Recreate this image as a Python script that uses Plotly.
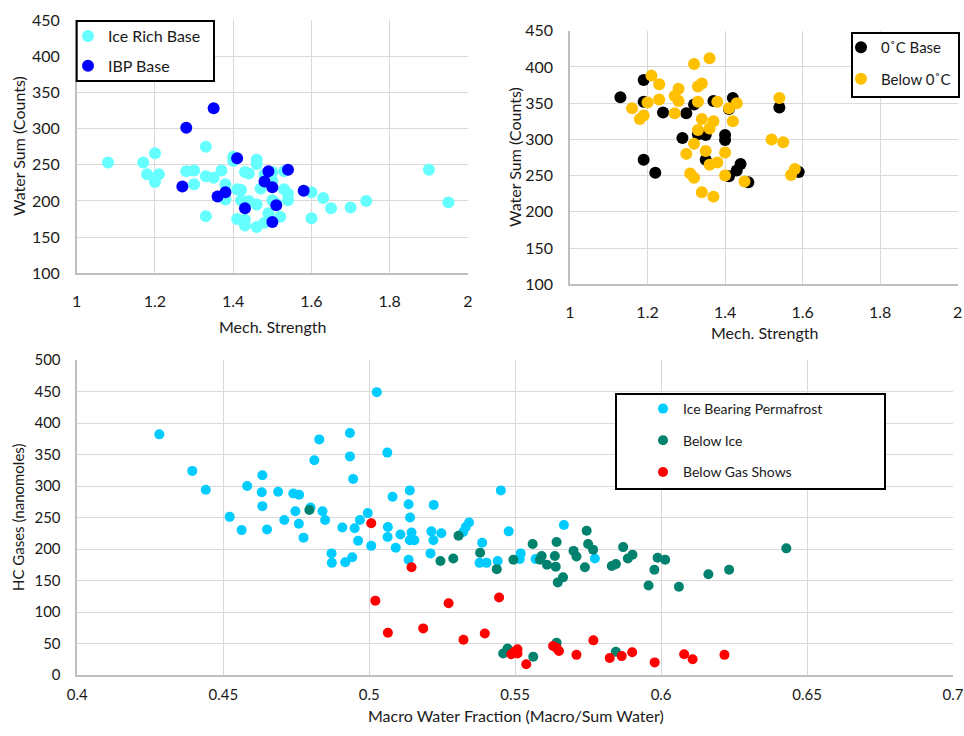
import plotly.graph_objects as go

# ---- Mechanical strength vs water sum: ice-rich vs IBP base ----
ice_rich_x = [1.08, 1.17, 1.20, 1.18, 1.21, 1.20, 1.33, 1.28, 1.30, 1.30, 1.33, 1.35, 1.37,
              1.38, 1.38, 1.40, 1.40, 1.43, 1.44, 1.41, 1.42, 1.42, 1.44, 1.46, 1.33, 1.41,
              1.43, 1.43, 1.46, 1.46, 1.48, 1.50, 1.50, 1.47, 1.53, 1.53, 1.54, 1.54, 1.50,
              1.51, 1.49, 1.52, 1.48, 1.46, 1.60, 1.60, 1.63, 1.65, 1.70, 1.74, 1.90, 1.95]
ice_rich_y = [253, 253, 266, 237, 237, 226, 275, 241, 242, 223, 234, 232, 242,
              223, 202, 261, 255, 240, 238, 216, 215, 201, 200, 195, 179, 175,
              174, 166, 257, 251, 237, 240, 228, 217, 241, 216, 210, 201, 201,
              196, 183, 178, 170, 164, 212, 176, 204, 190, 191, 200, 243, 198]

ibp_x = [1.35, 1.28, 1.41, 1.27, 1.49, 1.54, 1.48, 1.50, 1.38, 1.36, 1.58, 1.43, 1.51, 1.50]
ibp_y = [328, 301, 259, 220, 241, 243, 227, 219, 212, 206, 214, 190, 194, 171]

# ---- Mechanical strength vs water sum: 0°C base vs below 0°C ----
zero_c_x = [1.13, 1.19, 1.19, 1.24, 1.19, 1.22, 1.29, 1.30, 1.32, 1.33, 1.35, 1.35, 1.37,
            1.40, 1.40, 1.41, 1.42, 1.41, 1.43, 1.44, 1.46, 1.54, 1.59]
zero_c_y = [358, 382, 352, 337, 272, 254, 302, 336, 348, 307, 306, 272, 353,
            306, 299, 342, 357, 249, 257, 266, 241, 344, 255]

below_zero_x = [1.16, 1.18, 1.19, 1.20, 1.21, 1.23, 1.23, 1.27, 1.27, 1.28, 1.28, 1.32, 1.33,
                1.34, 1.33, 1.34, 1.33, 1.36, 1.37, 1.36, 1.38, 1.32, 1.30, 1.35, 1.36, 1.38,
                1.31, 1.32, 1.34, 1.37, 1.40, 1.40, 1.41, 1.43, 1.42, 1.45, 1.52, 1.54, 1.55,
                1.57, 1.58]
below_zero_y = [343, 328, 333, 351, 388, 376, 355, 336, 360, 370, 353, 404, 373,
                377, 352, 328, 313, 412, 325, 315, 352, 294, 280, 284, 265, 268,
                253, 247, 227, 221, 282, 250, 343, 350, 325, 242, 300, 357, 296,
                251, 259]

# ---- Macro water fraction vs HC gases ----
ibpf_x = [0.4281, 0.4394, 0.4440, 0.4522, 0.4563, 0.4582, 0.4634, 0.4632, 0.4634, 0.4650,
          0.4688, 0.4709, 0.4740, 0.4760, 0.4747, 0.4759, 0.4775, 0.4799, 0.4812, 0.4829,
          0.4840, 0.4849, 0.4871, 0.4872, 0.4908, 0.4918, 0.4942, 0.4934, 0.4934, 0.4945,
          0.4950, 0.4962, 0.4968, 0.4995, 0.5026, 0.5062, 0.5007, 0.5064, 0.5063, 0.5080,
          0.5091, 0.5107, 0.5135, 0.5139, 0.5135, 0.5140, 0.5145, 0.5139, 0.5155, 0.5210,
          0.5213, 0.5221, 0.5220, 0.5247, 0.5331, 0.5342, 0.5322, 0.5387, 0.5378, 0.5402,
          0.5440, 0.5451, 0.5478, 0.5519, 0.5516, 0.5570, 0.5667, 0.5773]
ibpf_y = [382, 324, 294, 251, 230, 300, 317, 290, 268, 231,
          291, 246, 288, 286, 260, 240, 218, 266, 341, 374,
          260, 246, 193, 178, 234, 179, 187, 384, 347, 311,
          233, 213, 246, 257, 449, 353, 205, 235, 219, 283,
          202, 223, 183, 293, 271, 250, 226, 214, 214, 193,
          228, 270, 214, 225, 235, 242, 227, 210, 178, 178,
          181, 293, 228, 193, 184, 184, 238, 185]

below_ice_x = [0.4795, 0.5244, 0.5288, 0.5306, 0.5380, 0.5437, 0.5494, 0.5560, 0.5585, 0.5591,
               0.5609, 0.5636, 0.5642, 0.5639, 0.5646, 0.5664, 0.5700, 0.5710, 0.5739, 0.5745,
               0.5750, 0.5767, 0.5831, 0.5845, 0.5870, 0.5886, 0.5902, 0.5957, 0.5977, 0.5988,
               0.6014, 0.6061, 0.6162, 0.6233, 0.6429, 0.5459, 0.5474, 0.5562, 0.5642, 0.5845]
below_ice_y = [262, 181, 185, 221, 194, 168, 183, 208, 183, 189,
               175, 189, 211, 172, 147, 155, 197, 188, 171, 229,
               208, 199, 173, 176, 203, 185, 191, 142, 167, 186,
               183, 140, 160, 167, 201, 34, 42, 29, 51, 37]

gas_x = [0.5007, 0.5145, 0.5021, 0.5064, 0.5185, 0.5272, 0.5323, 0.5396, 0.5445, 0.5487,
         0.5497, 0.5508, 0.5508, 0.5538, 0.5630, 0.5642, 0.5650, 0.5710, 0.5768, 0.5824,
         0.5865, 0.5901, 0.5978, 0.6079, 0.6108, 0.6217]
gas_y = [241, 171, 118, 67, 74, 114, 56, 66, 123, 33,
         37, 41, 34, 17, 46, 43, 38, 32, 55, 27,
         30, 36, 20, 33, 25, 32]

strength_ticks = [1, 1.2, 1.4, 1.6, 1.8, 2]
water_ticks = [100, 150, 200, 250, 300, 350, 400, 450]
fraction_ticks = [0.4, 0.45, 0.5, 0.55, 0.6, 0.65, 0.7]
hc_ticks = [0, 50, 100, 150, 200, 250, 300, 350, 400, 450, 500]

FONT = "Lato"
TXT = "#1A1A1A"
GRID = "#D9D9D9"
AXIS = "#BFBFBF"

fig = go.Figure()


def add_series(x, y, name, color, size, xa, ya, legend):
    fig.add_trace(go.Scatter(
        x=x, y=y, mode="markers", name=name,
        marker=dict(color=color, size=size, line=dict(width=0)),
        xaxis=xa, yaxis=ya, legend=legend, legendgroup=name,
    ))


add_series(ice_rich_x, ice_rich_y, "Ice Rich Base", "#66FFFF", 12, "x", "y", "legend")
add_series(ibp_x, ibp_y, "IBP Base", "#0000FF", 12, "x", "y", "legend")
add_series(zero_c_x, zero_c_y, "0˚C Base", "#000000", 12, "x2", "y2", "legend2")
add_series(below_zero_x, below_zero_y, "Below 0˚C", "#FFC000", 12, "x2", "y2", "legend2")
add_series(ibpf_x, ibpf_y, "Ice Bearing Permafrost", "#00CCFF", 10, "x3", "y3", "legend3")
add_series(below_ice_x, below_ice_y, "Below Ice", "#00826E", 10, "x3", "y3", "legend3")
add_series(gas_x, gas_y, "Below Gas Shows", "#FF0000", 10, "x3", "y3", "legend3")

W, H = 964, 736


def px(v):
    return v / W


def py(v):
    return 1 - v / H


def axis_style(domain, rng, ticks, labels, size, standoff, anchor):
    return dict(
        domain=domain, range=rng, tickvals=ticks, ticktext=labels,
        showgrid=True, gridcolor=GRID, gridwidth=1.3,
        showline=True, linecolor=AXIS, linewidth=1.5,
        zeroline=False, ticks="", ticklabelstandoff=standoff,
        tickfont=dict(family=FONT, size=size, color=TXT),
        anchor=anchor, fixedrange=True, automargin=False,
    )


strength_labels = [f"{v:g}" for v in strength_ticks]
water_labels = [str(v) for v in water_ticks]
fig.update_layout(
    xaxis=axis_style([px(76.7), px(468)], [1, 2], strength_ticks, strength_labels, 16, 13, "y"),
    yaxis=axis_style([py(273.3), py(20)], [100, 450], water_ticks, water_labels, 16, 12, "x"),
    xaxis2=axis_style([px(570), px(957.7)], [1, 2], strength_ticks, strength_labels, 16, 13, "y2"),
    yaxis2=axis_style([py(284.3), py(30.7)], [100, 450], water_ticks, water_labels, 16, 12, "x2"),
    xaxis3=axis_style([px(77.3), px(953)], [0.4, 0.7], fraction_ticks, [f"{v:g}" for v in fraction_ticks], 15, 5, "y3"),
    yaxis3=axis_style([py(675), py(360)], [0, 500], hc_ticks, [str(v) for v in hc_ticks], 15, 12, "x3"),
)

# Legend frames
frames = [(76.7, 21, 214, 81), (852, 33, 959, 97), (616, 394, 885, 489)]
for x0, y0, x1, y1 in frames:
    fig.add_shape(type="rect", xref="paper", yref="paper",
                  x0=px(x0), x1=px(x1), y0=py(y1), y1=py(y0),
                  line=dict(color="#000000", width=2), fillcolor="#FFFFFF", layer="above")


def legend_style(x, y, size, gap):
    return dict(
        x=x, y=y, xanchor="left", yanchor="top", xref="paper", yref="paper",
        bgcolor="rgba(0,0,0,0)", borderwidth=0,
        font=dict(family=FONT, size=size, color=TXT),
        traceorder="grouped", tracegroupgap=gap,
    )


fig.update_layout(
    legend=legend_style(px(68), py(19), 16, 6),
    legend2=legend_style(px(841), py(31), 15, 9),
    legend3=legend_style(px(643), py(393), 14, 10.5),
)

# Axis titles
titles = [
    ("Mech. Strength", px(272), py(326), 0, 16),
    ("Water Sum (Counts)", px(18), py(146), -90, 16),
    ("Mech. Strength", px(764), py(332), 0, 16),
    ("Water Sum (Counts)", px(515), py(157), -90, 16),
    ("Macro Water Fraction (Macro/Sum Water)", px(516), py(715), 0, 16),
    ("HC Gases (nanomoles)", px(18), py(517), -90, 15),
]
for text, x, y, ang, size in titles:
    fig.add_annotation(text=text, x=x, y=y, xref="paper", yref="paper",
                       showarrow=False, textangle=ang, xanchor="center", yanchor="middle",
                       font=dict(family=FONT, size=size, color=TXT))

fig.update_layout(
    width=W, height=H, margin=dict(l=0, r=0, t=0, b=0),
    paper_bgcolor="#FFFFFF", plot_bgcolor="#FFFFFF",
    showlegend=True,
)

fig.write_html("out.html", config={"displayModeBar": False})
